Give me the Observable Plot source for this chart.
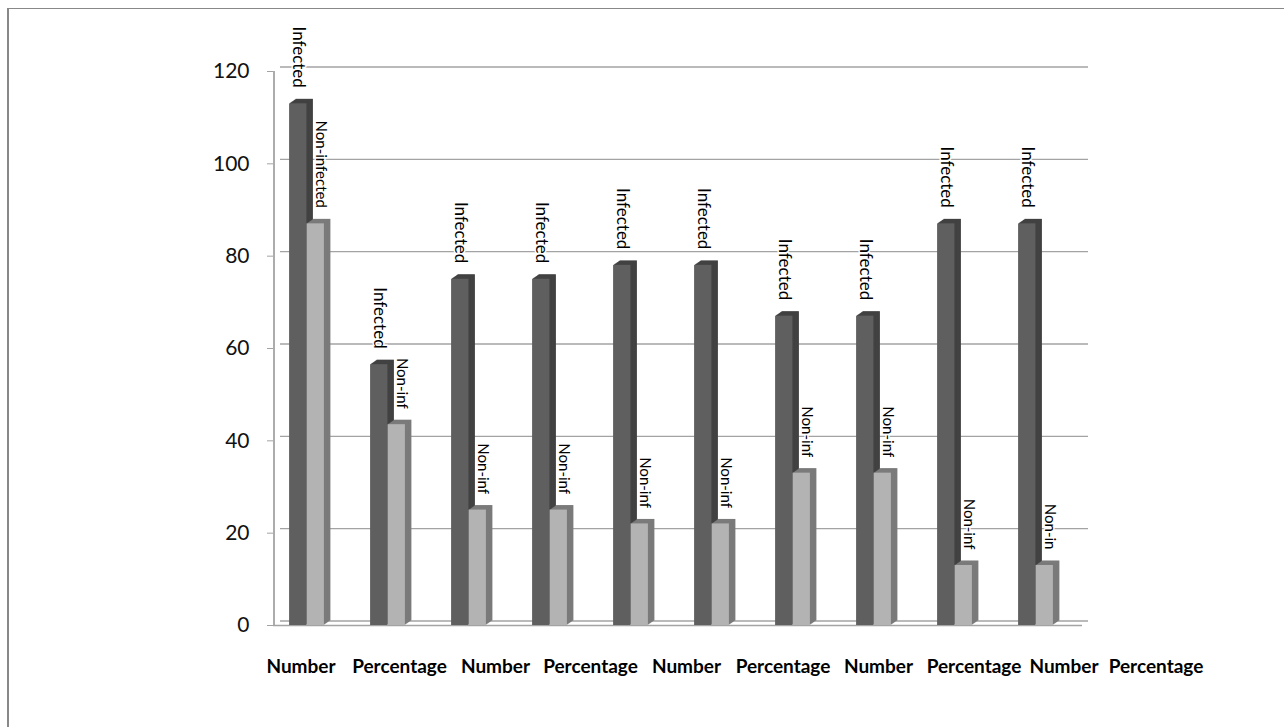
<!DOCTYPE html>
<html>
<head>
<meta charset="utf-8">
<script src="https://cdn.jsdelivr.net/npm/d3@7"></script>
<script src="https://cdn.jsdelivr.net/npm/@observablehq/plot@0.6"></script>
<style>
  html, body { margin: 0; padding: 0; background: #fff; overflow: hidden; }
  #page { position: relative; width: 1284px; height: 727px; }
  #frame { position: absolute; left: 7px; top: 8px; width: 1400px; height: 800px;
           border-left: 2px solid #888; border-top: 1.5px solid #888; pointer-events: none; }
  #chart { position: absolute; left: 0; top: 0; }
  #xlabels { position: absolute; left: 0; top: 654px; width: 1284px; height: 24px;
             font-family: Lato, "Open Sans", sans-serif; font-weight: bold; font-size: 19px; color: #000; }
  #xlabels span { position: absolute; top: 0; transform: translateX(-50%); white-space: nowrap; }
</style>
</head>
<body>
<div id="page">
  <div id="chart"></div>
  <div id="xlabels"></div>
  <div id="frame"></div>
</div>
<script>
// ---- data ----
const categories = ["Number", "Percentage", "Number", "Percentage", "Number", "Percentage", "Number", "Percentage", "Number", "Percentage"];
const infected = [113, 56.5, 75, 75, 78, 78, 67, 67, 87, 87];
const nonInfected = [87, 43.5, 25, 25, 22, 22, 33, 33, 13, 13];
const infectedLabels = ["Infected", "Infected", "Infected", "Infected", "Infected", "Infected", "Infected", "Infected", "Infected", "Infected"];
const nonInfectedLabels = ["Non-infected", "Non-inf", "Non-inf", "Non-inf", "Non-inf", "Non-inf", "Non-inf", "Non-inf", "Non-inf", "Non-in"];
const yTicks = [0, 20, 40, 60, 80, 100, 120];

// ---- layout ----
const W = 1284, H = 700;
const xLeft = 265.4, xRight = 1077.4;
const band = (xRight - xLeft) / categories.length;
const barW = 17.5;
const depthX = 6.5, depthY = -4.5, depthSteps = 8;
const wallOff = 7.6;
const labelCenters = [301, 399.5, 495.5, 590.5, 686.5, 783, 878.5, 974, 1064, 1156];

const keys = categories.map((c, i) => `${i}-${c}`);
const rows = keys.map((k, i) => ({
  key: k,
  inf: infected[i],
  non: nonInfected[i],
  infLabel: infectedLabels[i],
  nonLabel: nonInfectedLabels[i]
}));

const gridColor = "#a3a3a3";
const font = "Lato, 'Open Sans', sans-serif";

// 3D bar: stacked offset copies for the side/top faces, then the front face
function bar3d(field, insetLeft, insetRight, sideColor, frontColor) {
  const marks = [];
  for (let k = depthSteps; k >= 1; k--) {
    marks.push(Plot.barY(rows, { x: "key", y: field, insetLeft, insetRight,
      dx: depthX * k / depthSteps, dy: depthY * k / depthSteps, fill: sideColor }));
  }
  marks.push(Plot.barY(rows, { x: "key", y: field, insetLeft, insetRight, fill: frontColor }));
  return marks;
}

const chart = Plot.plot({
  width: W,
  height: H,
  marginLeft: xLeft,
  marginRight: W - xRight,
  marginTop: 71,
  marginBottom: H - 625,
  style: { background: "transparent", fontFamily: font, overflow: "visible" },
  x: { domain: keys, padding: 0, axis: null },
  y: { domain: [0, 120], axis: null },
  marks: [
    // back wall gridlines
    Plot.ruleY(yTicks, { dx: wallOff - 0.6, dy: depthY, insetLeft: wallOff, insetRight: -3.6, stroke: gridColor, strokeWidth: 1.3 }),
    // floor front edge
    Plot.ruleY([0], { insetLeft: wallOff, insetRight: -4.6, stroke: gridColor, strokeWidth: 1.3 }),
    // left wall
    Plot.ruleX([keys[0]], { y1: 0, y2: 120, dx: wallOff - band / 2, stroke: gridColor, strokeWidth: 1.8 }),
    // y axis
    Plot.axisY(yTicks, { tickSize: 6, tickPadding: 18, dx: wallOff, stroke: gridColor, fill: "#111", fontSize: 21, label: null }),
    // bars
    ...bar3d("inf", band / 2 - barW, band / 2, "#424242", "#5f5f5f"),
    ...bar3d("non", band / 2, band / 2 - barW, "#7b7b7b", "#b3b3b3"),
    // labels
    Plot.text(rows, { x: "key", y: "inf", text: "infLabel", rotate: 90, textAnchor: "end", dx: -barW / 2, dy: -16,
      fontSize: 17, fill: "#000", stroke: "white", strokeWidth: 3 }),
    Plot.text(rows, { x: "key", y: "non", text: "nonLabel", rotate: 90, textAnchor: "end", dx: barW / 2 + 5, dy: -16,
      fontSize: 15, fill: "#000", stroke: "white", strokeWidth: 3 })
  ]
});
document.getElementById("chart").appendChild(chart);

const xl = document.getElementById("xlabels");
categories.forEach((c, i) => {
  const s = document.createElement("span");
  s.textContent = c;
  s.style.left = labelCenters[i] + "px";
  xl.appendChild(s);
});
</script>
</body>
</html>
